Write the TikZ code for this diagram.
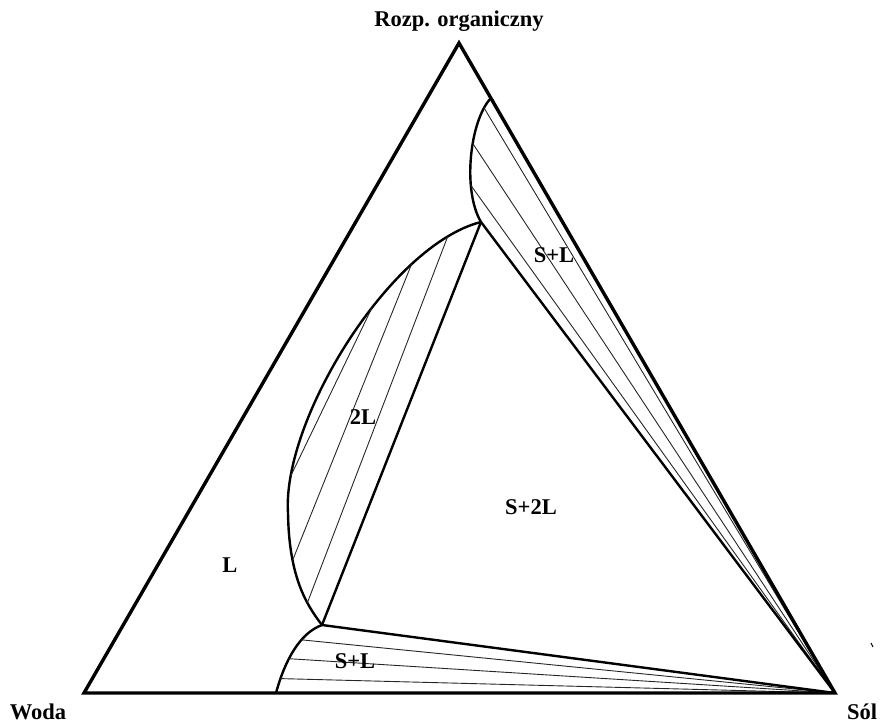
\documentclass[tikz,border=0pt]{standalone}
\usepackage{fontspec}
\setmainfont{Liberation Serif}
\begin{document}
\begin{tikzpicture}[x=1pt,y=-1pt,
  edge/.style={line width=3.4pt, line join=miter},
  bound/.style={line width=2.4pt},
  tie/.style={line width=0.9pt, black!85},
  lab/.style={font=\fontsize{22.5}{26}\selectfont\bfseries, anchor=base, inner sep=0pt}]
\useasboundingbox (0,0) rectangle (883,725);
% vertices
\coordinate (T) at (459,43);
\coordinate (W) at (84,693);
\coordinate (S) at (835,693);
\coordinate (A) at (481,222);
\coordinate (B) at (322,625);
\coordinate (P) at (491,98);
\coordinate (Q) at (276,693);
% top binodal (S+L) with tie lines
\draw[bound] (P) .. controls (470,120) and (462,190) .. (A)
  coordinate[pos=0.12] (t1) coordinate[pos=0.41] (t2) coordinate[pos=0.7] (t3);
\draw[tie] (t1) -- (S);
\draw[tie] (t2) -- (S);
\draw[tie] (t3) -- (S);
% 2L region with tie lines
\draw[bound] (A) .. controls (390,245) and (282,420) .. (288,513)
  coordinate[pos=0.12] (u1) coordinate[pos=0.25] (u2) coordinate[pos=0.4] (u3) coordinate[pos=0.88] (v3)
  .. controls (289,575) and (305,603) .. (B)
  coordinate[pos=0.3] (v2) coordinate[pos=0.7] (v1);
\draw[tie] (u1) -- (v1);
\draw[tie] (u2) -- (v2);
\draw[tie] (u3) -- (v3);
% bottom binodal (S+L) with tie lines
\draw[bound] (B) .. controls (300,633) and (285,660) .. (Q)
  coordinate[pos=0.35] (w1) coordinate[pos=0.62] (w2) coordinate[pos=0.85] (w3);
\draw[tie] (w1) -- (S);
\draw[tie] (w2) -- (S);
\draw[tie] (w3) -- (S);
% three-phase triangle
\draw[bound] (A) -- (B);
\draw[bound] (A) -- (S);
\draw[bound] (B) -- (S);
% outer triangle
\draw[edge] (T) -- (W) -- (S) -- cycle;
% stray mark
\coordinate (m1) at (871,643);
\coordinate (m2) at (873,647);
\draw[line width=1pt] (m1) -- (m2);
% labels
\node[lab] (top) at (459,27) {Rozp. organiczny};
\node[lab] (woda) at (38,719) {Woda};
\node[lab] (sol) at (862,719) {Sól};
\node[lab] (l) at (230,572) {L};
\node[lab] (s2l) at (531,514) {S+2L};
\node[lab] (twol) at (363,424) {2L};
\node[lab] (slt) at (554,262) {S+L};
\node[lab] (slb) at (355,668) {S+L};
\end{tikzpicture}
\end{document}
